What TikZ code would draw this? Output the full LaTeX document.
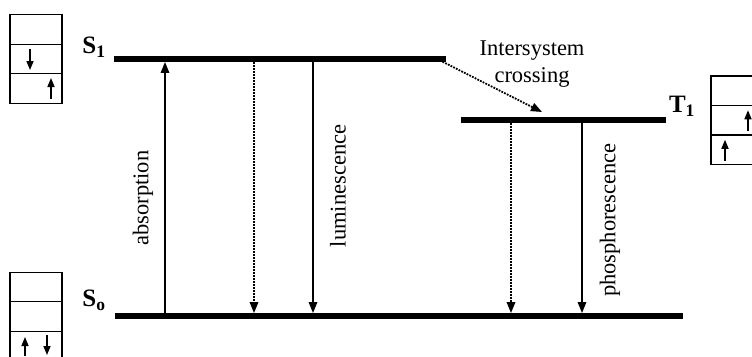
\documentclass[tikz,border=0pt]{standalone}
\usepackage{fontspec}
\setmainfont{Liberation Serif}
\usetikzlibrary{arrows.meta}
\begin{document}
\begin{tikzpicture}[x=1pt,y=-1pt,
 level/.style={fill=black, inner sep=0pt, minimum height=5.5pt, draw=none},
 trans/.style={line width=1.5pt, -{Triangle[length=11pt,width=8.5pt]}},
 nonrad/.style={trans, line width=1.8pt, dash pattern=on 1.8pt off 1.2pt},
 box/.style={draw, line width=1.4pt, minimum width=52pt, minimum height=29.5pt, inner sep=0pt},
 spin/.style={line width=1.5pt, -{Triangle[length=9pt,width=7pt]}},
 lab/.style={font=\fontsize{22.5}{27}\selectfont, inner sep=0pt},
 st/.style={font=\fontsize{25}{29}\selectfont\bfseries, inner sep=0pt}]
\useasboundingbox (0,0) rectangle (752,356);

% energy levels
\node[level, minimum width=332pt] (S1) at (280,59) {};
\node[level, minimum width=205pt] (T1) at (563.5,120) {};
\node[level, minimum width=568pt] (S0) at (399,316) {};

\node[st] (lS1) at (94,47) {S\textsubscript{1}};
\node[st] (lT1) at (682,106) {T\textsubscript{1}};
\node[st] (lS0) at (94,300) {S\textsubscript{o}};

% columns
\coordinate (xa) at (165,0);
\coordinate (xb) at (254,0);
\coordinate (xc) at (313,0);
\coordinate (xd) at (511,0);
\coordinate (xe) at (582,0);
\coordinate (iscend) at (542,112);

\draw[trans] (xa |- S0.north) -- (xa |- S1.south);
\draw[nonrad] (xb |- S1.south) -- (xb |- S0.north);
\draw[trans] (xc |- S1.south) -- (xc |- S0.north);
\draw[nonrad] (xd |- T1.south) -- (xd |- S0.north);
\draw[trans] (xe |- T1.south) -- (xe |- S0.north);
\draw[nonrad] ([xshift=-9pt]S1.east) -- (iscend);

\node[lab, rotate=90] (tabs) at (143,198) {absorption};
\node[lab, rotate=90] (tlum) at (338,186) {luminescence};
\node[lab, rotate=90] (tpho) at (610,220) {phosphorescence};
\node[lab, align=center] (tisc) at (532,64) {Intersystem\\crossing};

% top-left box (S1)
\node[box] (tl1) at (36,29.5) {};
\node[box] (tl2) at (36,59) {};
\node[box] (tl3) at (36,88.5) {};
\draw[spin] ([xshift=-6pt,yshift=10pt]tl2.center) -- ([xshift=-6pt,yshift=-11pt]tl2.center);
\draw[spin] ([xshift=15pt,yshift=-10.5pt]tl3.center) -- ([xshift=15pt,yshift=10.5pt]tl3.center);

% bottom-left box (S0)
\node[box] (bl1) at (36,287) {};
\node[box] (bl2) at (36,316.5) {};
\node[box] (bl3) at (36,346) {};
\draw[spin] ([xshift=-11pt,yshift=-10pt]bl3.center) -- ([xshift=-11pt,yshift=9pt]bl3.center);
\draw[spin] ([xshift=11pt,yshift=11pt]bl3.center) -- ([xshift=11pt,yshift=-9pt]bl3.center);

% right box (T1)
\node[box] (tr1) at (737,90.75) {};
\node[box] (tr2) at (737,120.25) {};
\node[box] (tr3) at (737,149.75) {};
\draw[spin] ([xshift=11pt,yshift=-10.5pt]tr2.center) -- ([xshift=11pt,yshift=10pt]tr2.center);
\draw[spin] ([xshift=-12pt,yshift=-11pt]tr3.center) -- ([xshift=-12pt,yshift=10pt]tr3.center);
\end{tikzpicture}
\end{document}
